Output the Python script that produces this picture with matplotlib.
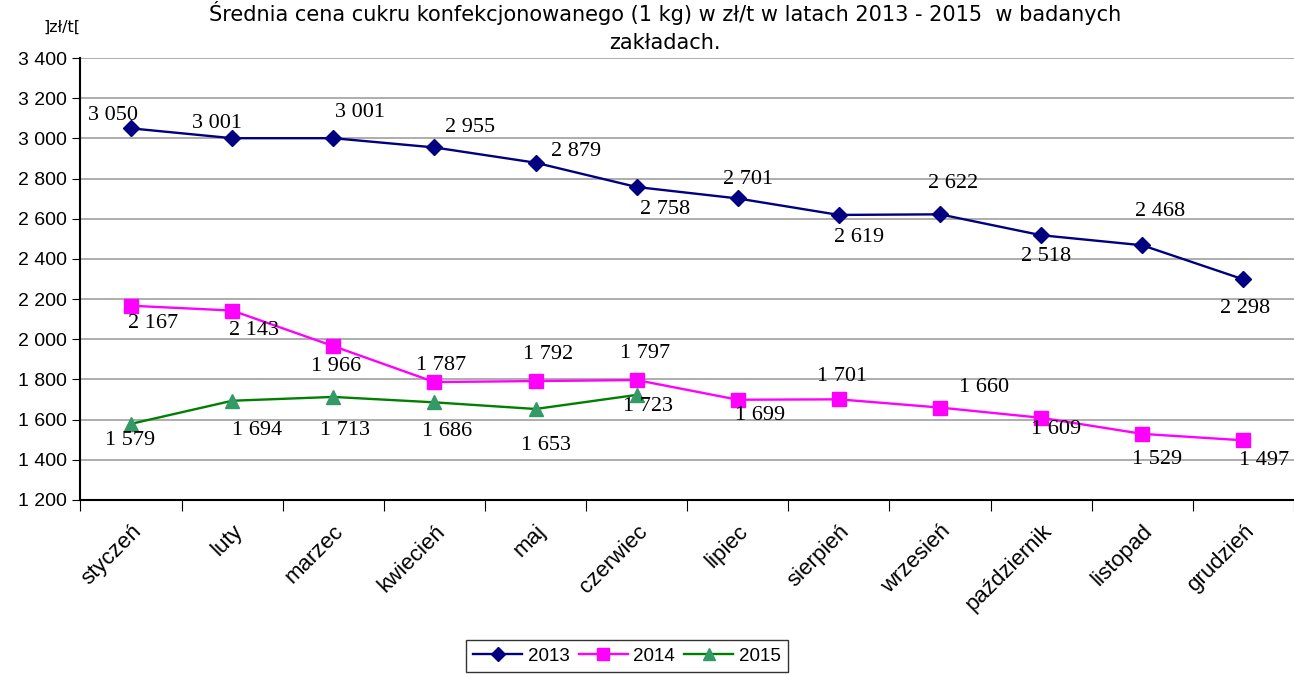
import matplotlib.pyplot as plt
import numpy as np

# data
miesiace = ['styczeń', 'luty', 'marzec', 'kwiecień', 'maj', 'czerwiec',
            'lipiec', 'sierpień', 'wrzesień', 'październik', 'listopad', 'grudzień']
ceny_2013 = [3050, 3001, 3001, 2955, 2879, 2758, 2701, 2619, 2622, 2518, 2468, 2298]
ceny_2014 = [2167, 2143, 1966, 1787, 1792, 1797, 1699, 1701, 1660, 1609, 1529, 1497]
ceny_2015 = [1579, 1694, 1713, 1686, 1653, 1723]

# label offsets in pixels (dx, dy) for each data label
off_2013 = [(-18, 13), (-15, 15), (27, 26), (36, 20), (41, 11), (28, -22),
            (10, 19), (20, -23), (13, 31), (5, -21), (18, 34), (2, -29)]
off_2014 = [(22, -18), (22, -20), (3, -20), (7, 17), (13, 27), (8, 27),
            (22, -16), (3, 23), (44, 20), (15, -12), (15, -26), (21, -20)]
off_2015 = [(-1, -17), (25, -30), (12, -34), (13, -29), (10, -37), (11, -12)]


def fmt(v):
    return f"{v:,}".replace(',', ' ')


fig = plt.figure(figsize=(12.94, 6.75), dpi=100)
ax = fig.add_axes([0.0622, 0.2593, 0.9378, 0.6547])

x = np.arange(len(miesiace))
ax.plot(x, ceny_2013, color='#000080', marker='D', markersize=8.5, linewidth=1.7, label='2013', zorder=3)
ax.plot(x, ceny_2014, color='#FF00FF', marker='s', markersize=10, linewidth=1.7, label='2014', zorder=3)
ax.plot(x[:len(ceny_2015)], ceny_2015, color='#008000', marker='^', markersize=10,
        markerfacecolor='#339966', markeredgecolor='#339966', linewidth=1.7, label='2015', zorder=3)

for seria, offs in [(ceny_2013, off_2013), (ceny_2014, off_2014), (ceny_2015, off_2015)]:
    for i, (v, o) in enumerate(zip(seria, offs)):
        ax.annotate(fmt(v), (i, v), xytext=o, textcoords='offset pixels',
                    ha='center', va='center', fontsize=16, family='Liberation Serif', zorder=4)

ax.set_xlim(-0.5, 11.5)
ax.set_ylim(1200, 3400)
ax.set_yticks(np.arange(1200, 3401, 200))
ax.set_yticklabels([fmt(v) for v in range(1200, 3401, 200)], family='Liberation Sans', fontsize=14)
ax.grid(axis='y', color='#a0a0a0', linewidth=1.2)
ax.set_axisbelow(True)

ax.set_xticks(np.arange(-0.5, 12, 1))
ax.set_xticklabels([])
ax.set_xticks(x, minor=True)
ax.set_xticklabels(miesiace, minor=True, rotation=45, ha='right', rotation_mode='anchor',
                   family='Liberation Sans', fontsize=16)
ax.tick_params(axis='x', which='major', length=8, direction='out', color='black')
ax.tick_params(axis='x', which='minor', length=0, pad=15)
ax.tick_params(axis='y', length=6, color='black', pad=4)

for s in ['top', 'right']:
    ax.spines[s].set_visible(False)
ax.spines['left'].set_linewidth(1.5)
ax.spines['bottom'].set_linewidth(1.5)

fig.text(0.514, 0.999, 'Średnia cena cukru konfekcjonowanego (1 kg) w zł/t w latach 2013 - 2015  w badanych\nzakładach.',
         ha='center', va='top', fontsize=15, linespacing=1.5)
fig.text(0.048, 0.96, ']zł/t[', ha='center', va='center', fontsize=11.5)

leg = fig.legend(loc='upper center', bbox_to_anchor=(0.4845, 0.052), ncol=3, frameon=True,
                 fancybox=False, edgecolor='black', handlelength=2.6,
                 columnspacing=0.5, handletextpad=0.3, borderaxespad=0, markerscale=0.8,
                 prop={'family': 'Liberation Sans', 'size': 13.5})
leg.get_frame().set_linewidth(1)

fig.savefig('out.png', dpi=100)
